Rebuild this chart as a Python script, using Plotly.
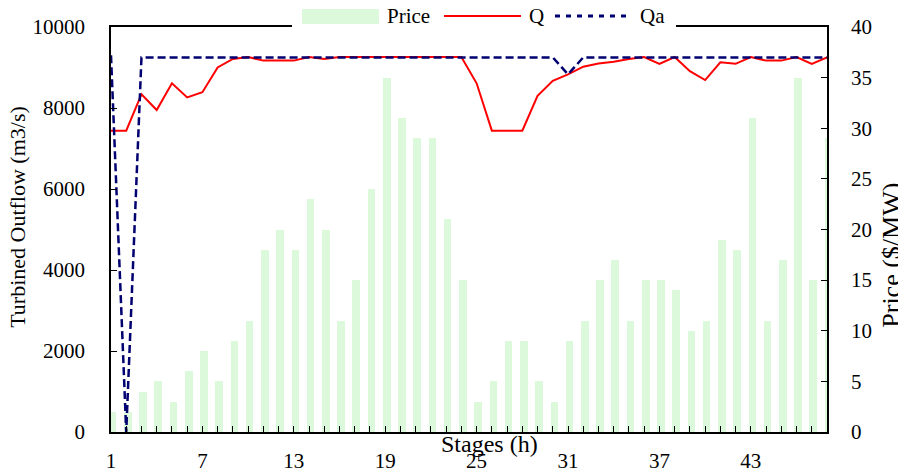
import plotly.graph_objects as go

stages = list(range(1, 49))
price = [2, 2, 4, 5, 3, 6, 8, 5, 9, 11, 18, 20, 18, 23, 20, 11, 15, 24, 35, 31, 29, 29, 21, 15,
         3, 5, 9, 9, 5, 3, 9, 11, 15, 17, 11, 15, 15, 14, 10, 11, 19, 18, 31, 11, 17, 35, 15, 29]
q = [7440, 7440, 8340, 7950, 8610, 8260, 8390, 9000, 9210, 9260, 9170, 9170, 9170, 9260, 9210, 9260,
     9260, 9260, 9260, 9260, 9260, 9260, 9260, 9260, 8610, 7440, 7440, 7440, 8300, 8670, 8830, 9020,
     9100, 9140, 9210, 9260, 9090, 9260, 8910, 8690, 9130, 9090, 9260, 9170, 9170, 9260, 9090, 9250]
qa = [9300, 0] + [9250] * 28 + [8830] + [9250] * 17

x_ticks = [1, 7, 13, 19, 25, 31, 37, 43]
series_names = ["Price", "Q", "Qa"]

FONT = "Liberation Serif"
GREEN = "#DCF9DC"
RED = "#FF0000"
NAVY = "#000070"

fig = go.Figure()
fig.add_trace(go.Bar(x=stages, y=price, name=series_names[0], yaxis="y",
                     marker=dict(color=GREEN, line=dict(width=0)),
                     width=0.5, offset=-0.15))
fig.add_trace(go.Scatter(x=stages, y=q, name=series_names[1], yaxis="y2", mode="lines",
                         line=dict(color=RED, width=2)))
fig.add_trace(go.Scatter(x=stages, y=qa, name=series_names[2], yaxis="y2", mode="lines",
                         line=dict(color=NAVY, width=2.5, dash="8px,4px")))

LEG_Y = 1.0272
# hand-drawn legend (wide swatches as in the original)
legend_shapes = [
    dict(type="rect", xref="paper", yref="paper", x0=0.2528, x1=0.7891, y0=0.9926, y1=1.0593,
         fillcolor="white", line=dict(width=0), layer="above"),
    dict(type="rect", xref="paper", yref="paper", x0=0.2668, x1=0.3743, y0=1.0074, y1=1.0444,
         fillcolor=GREEN, line=dict(width=0), layer="above"),
    dict(type="line", xref="paper", yref="paper", x0=0.4651, x1=0.5726, y0=LEG_Y, y1=LEG_Y,
         line=dict(color=RED, width=2), layer="above"),
    dict(type="line", xref="paper", yref="paper", x0=0.6201, x1=0.7235, y0=LEG_Y, y1=LEG_Y,
         line=dict(color=NAVY, width=3, dash="5px,6px"), layer="above"),
]
legend_texts = [
    dict(text=series_names[0], xref="paper", yref="paper", x=0.3827, y=LEG_Y,
         xanchor="left", yanchor="middle", showarrow=False, font=dict(size=21)),
    dict(text=series_names[1], xref="paper", yref="paper", x=0.581, y=LEG_Y,
         xanchor="left", yanchor="middle", showarrow=False, font=dict(size=21)),
    dict(text=series_names[2], xref="paper", yref="paper", x=0.736, y=LEG_Y,
         xanchor="left", yanchor="middle", showarrow=False, font=dict(size=21)),
]

fig.update_layout(
    width=898, height=468,
    margin=dict(l=103, r=79, t=19, b=44, autoexpand=False),
    paper_bgcolor="white", plot_bgcolor="white",
    font=dict(family=FONT, size=21, color="black"),
    showlegend=False,
    bargap=0,
    xaxis=dict(range=[1, 48], tickvals=x_ticks, ticktext=[str(v) for v in x_ticks],
               ticks="inside", ticklen=6, tickcolor="black",
               minor=dict(dtick=1, tick0=1, ticks="inside", ticklen=6, tickcolor="black"),
               showline=True, linecolor="black", linewidth=1.5, mirror=True,
               showgrid=False, zeroline=False, ticklabelstandoff=9, automargin=False),
    yaxis=dict(side="right", range=[0, 40], dtick=5, ticks="inside", ticklen=6,
               tickcolor="black", showline=True, linecolor="black", linewidth=1.5,
               showgrid=False, zeroline=False, ticklabelstandoff=18, automargin=False),
    yaxis2=dict(side="left", overlaying="y", range=[0, 10000], dtick=2000, tickformat="d",
                ticks="inside", ticklen=6, tickcolor="black", showline=True,
                linecolor="black", linewidth=1.5, showgrid=False, zeroline=False,
                ticklabelstandoff=20, automargin=False),
    shapes=legend_shapes,
    annotations=legend_texts + [
        dict(text="Turbined Outflow (m3/s)", xref="paper", yref="paper", x=-0.130, y=0.531,
             textangle=-90, showarrow=False, font=dict(size=22),
             xanchor="center", yanchor="middle"),
        dict(text="Price ($/MW)", xref="paper", yref="paper", x=1.089, y=0.437,
             textangle=-90, showarrow=False, font=dict(size=26),
             xanchor="center", yanchor="middle"),
        dict(text="Stages (h)", xref="paper", yref="paper", x=0.528, y=-0.030,
             showarrow=False, font=dict(size=24), xanchor="center", yanchor="middle"),
    ],
)

fig.write_html("out.html")
